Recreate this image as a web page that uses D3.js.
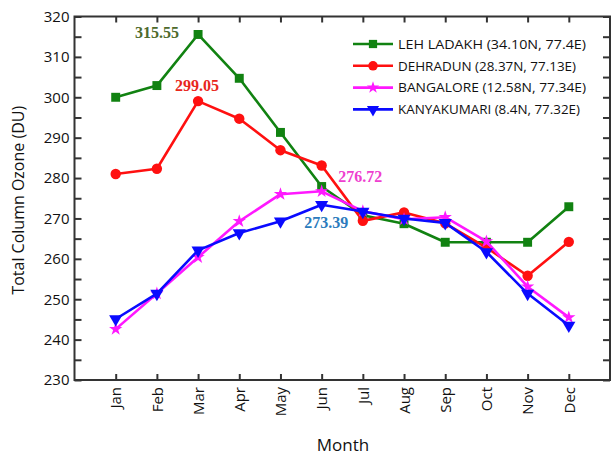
<!DOCTYPE html>
<html><head><meta charset="utf-8">
<script src="https://cdn.jsdelivr.net/npm/d3@7"></script>
<style>body{margin:0;background:#fff}svg{display:block}</style>
</head><body>
<svg id="c" width="611" height="455"></svg>
<script>
const months = ["Jan","Feb","Mar","Apr","May","Jun","Jul","Aug","Sep","Oct","Nov","Dec"];
const lehLadakh  = [300.0, 302.9, 315.55, 304.7, 291.3, 277.9, 270.8, 268.7, 264.1, 264.1, 264.1, 272.9];
const dehradun   = [281.0, 282.3, 299.05, 294.7, 286.9, 283.1, 269.4, 271.5, 268.8, 262.8, 255.8, 264.2];
const bangalore  = [242.6, 251.4, 260.4, 269.3, 276.0, 276.72, 271.8, 269.8, 270.3, 264.3, 253.1, 245.5];
const kanyakumari= [245.1, 251.4, 262.1, 266.4, 269.3, 273.39, 271.7, 270.0, 268.9, 261.7, 251.4, 243.5];
const seriesNames = ["LEH LADAKH (34.10N, 77.4E)","DEHRADUN (28.37N, 77.13E)","BANGALORE (12.58N, 77.34E)","KANYAKUMARI (8.4N, 77.32E)"];
const yTicks = [230,240,250,260,270,280,290,300,310,320];
const peakLabels = ["315.55","299.05","276.72","273.39"];

const svg = d3.select("#c");
const L = 74.5, R = 610, T = 16.5, B = 380;
const x = d3.scaleLinear().domain([0, 13]).range([L, R]);
const y = d3.scaleLinear().domain([230, 320]).range([B, T]);
const axisColor = "#333";
const font = "'Open Sans', sans-serif";

const series = [
  {name: seriesNames[0], values: lehLadakh, color: "#118211", sym: d3.symbolSquare, size: 80, rot: 0},
  {name: seriesNames[1], values: dehradun, color: "#ff1010", sym: d3.symbolCircle, size: 85, rot: 0},
  {name: seriesNames[2], values: bangalore, color: "#ff18ff", sym: d3.symbolStar, size: 55, rot: 0},
  {name: seriesNames[3], values: kanyakumari, color: "#0a0aff", sym: d3.symbolTriangle, size: 75, rot: 180},
];

// frame
svg.append("rect").attr("x", L).attr("y", T).attr("width", R - L).attr("height", B - T)
  .attr("fill", "none").attr("stroke", axisColor).attr("stroke-width", 2);

// axes
const minor = d3.range(235, 320, 10);
const gL = svg.append("g").attr("transform", `translate(${L},0)`)
  .call(d3.axisLeft(y).tickValues(yTicks).tickSize(-7).tickPadding(6).tickFormat(d3.format("d")));
const gLm = svg.append("g").attr("transform", `translate(${L},0)`)
  .call(d3.axisLeft(y).tickValues(minor).tickSize(-7).tickFormat(""));
const gR = svg.append("g").attr("transform", `translate(${R},0)`)
  .call(d3.axisRight(y).tickValues(yTicks.concat(minor)).tickSize(-7).tickFormat(""));
const gB = svg.append("g").attr("transform", `translate(0,${B})`)
  .call(d3.axisBottom(x).tickValues(d3.range(1, 13)).tickSize(-6).tickFormat(i => months[i - 1]));
const gT = svg.append("g").attr("transform", `translate(0,${T})`)
  .call(d3.axisTop(x).tickValues(d3.range(1, 13)).tickSize(-6).tickFormat(""));
[gL, gLm, gR, gB, gT].forEach(g => {
  g.select(".domain").remove();
  g.selectAll(".tick line").attr("stroke", axisColor).attr("stroke-width", 2);
});
gL.selectAll(".tick text").attr("font-family", font).attr("font-size", 15).attr("fill", "#111").attr("x", -5);
gB.selectAll(".tick text").attr("font-family", font).attr("font-size", 15).attr("fill", "#111")
  .attr("transform", "rotate(-90)").attr("text-anchor", "end").attr("dy", "0.35em")
  .attr("x", -7).attr("y", 0);

// axis titles
svg.append("text").attr("x", 343).attr("y", 451).attr("text-anchor", "middle")
  .attr("font-family", font).attr("font-size", 17).attr("fill", "#111").text("Month");
svg.append("text").attr("transform", `translate(24,${(T + B) / 2 + 2}) rotate(-90)`).attr("text-anchor", "middle")
  .attr("font-family", font).attr("font-size", 16).attr("fill", "#111").text("Total Column Ozone (DU)");

// lines & markers
const line = d3.line().x((d, i) => x(i + 1)).y(d => y(d));
series.forEach(s => {
  svg.append("path").datum(s.values).attr("d", line).attr("fill", "none")
    .attr("stroke", s.color).attr("stroke-width", 2.6).attr("stroke-linejoin", "round");
  svg.append("g").selectAll("path").data(s.values).join("path")
    .attr("d", d3.symbol(s.sym, s.size))
    .attr("transform", (d, i) => `translate(${x(i + 1)},${y(d)}) rotate(${s.rot})`)
    .attr("fill", s.color);
});

// legend
const lg = svg.append("g");
series.forEach((s, k) => {
  const yy = 44 + k * 21.8;
  lg.append("line").attr("x1", 353).attr("x2", 393).attr("y1", yy).attr("y2", yy)
    .attr("stroke", s.color).attr("stroke-width", 2.6);
  lg.append("path").attr("d", d3.symbol(s.sym, s.size * 0.85))
    .attr("transform", `translate(373,${yy}) rotate(${s.rot})`).attr("fill", s.color);
  lg.append("text").attr("x", 398).attr("y", yy).attr("dy", "0.36em")
    .attr("font-family", font).attr("font-size", 13.5).attr("fill", "#111")
    .attr("textLength", 188 - (k === 1 ? 10 : k === 3 ? 6 : 0)).attr("lengthAdjust", "spacingAndGlyphs")
    .text(s.name);
});

// peak annotations
const ann = [
  {t: peakLabels[0], m: 2, v: lehLadakh[2], dx: -41, dy: 4, c: "#4e6a2c"},
  {t: peakLabels[1], m: 2, v: dehradun[2], dx: -1, dy: -10, c: "#e8261c"},
  {t: peakLabels[2], m: 5, v: bangalore[5], dx: 38.5, dy: -9, c: "#ee3fcf"},
  {t: peakLabels[3], m: 5, v: kanyakumari[5], dx: 4.5, dy: 23.5, c: "#2b7bbd"},
];
ann.forEach(a => {
  svg.append("text").attr("x", x(a.m + 1) + a.dx).attr("y", y(a.v) + a.dy)
    .attr("text-anchor", "middle").attr("font-family", "'Liberation Serif', 'Times New Roman', serif")
    .attr("font-weight", "bold").attr("font-size", 16).attr("fill", a.c).text(a.t);
});
</script>
</body></html>
